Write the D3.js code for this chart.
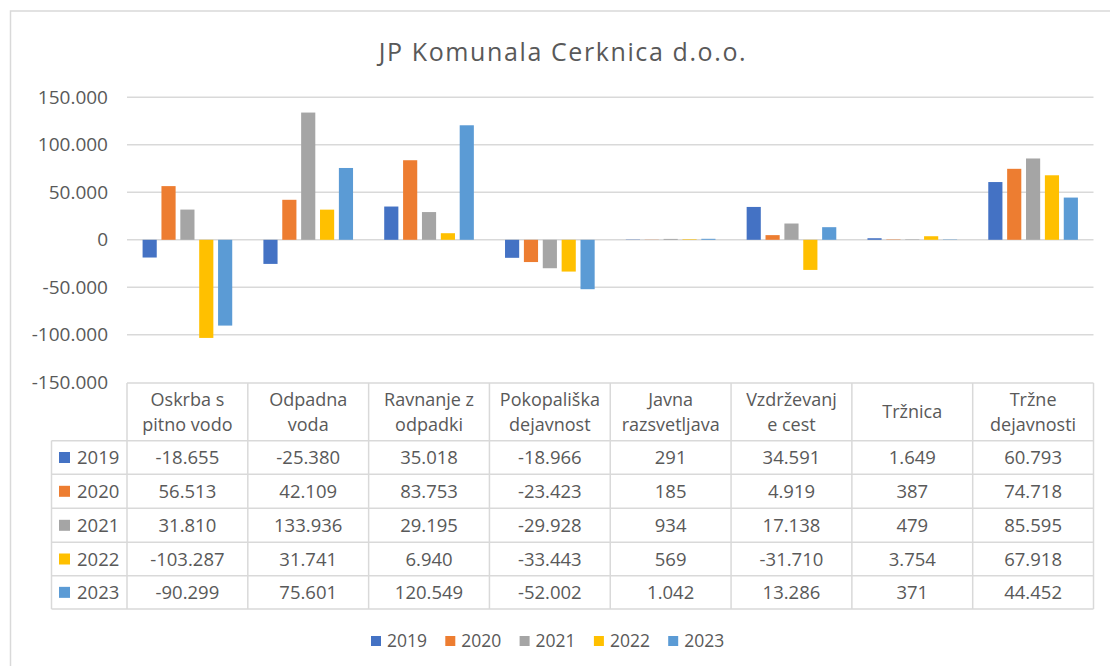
<!DOCTYPE html>
<html>
<head>
<meta charset="utf-8">
<script src="https://cdn.jsdelivr.net/npm/d3@7"></script>
<style>
  body { margin: 0; background: #fff; }
  text { font-family: "Open Sans", Lato, sans-serif; fill: #595959; }
</style>
</head>
<body>
<svg id="chart" width="1110" height="666"></svg>
<script>
var categories = [
  ["Oskrba s", "pitno vodo"],
  ["Odpadna", "voda"],
  ["Ravnanje z", "odpadki"],
  ["Pokopališka", "dejavnost"],
  ["Javna", "razsvetljava"],
  ["Vzdrževanj", "e cest"],
  ["Tržnica"],
  ["Tržne", "dejavnosti"]
];
var years = ["2019", "2020", "2021", "2022", "2023"];
var v2019 = [-18655, -25380, 35018, -18966, 291, 34591, 1649, 60793];
var v2020 = [56513, 42109, 83753, -23423, 185, 4919, 387, 74718];
var v2021 = [31810, 133936, 29195, -29928, 934, 17138, 479, 85595];
var v2022 = [-103287, 31741, 6940, -33443, 569, -31710, 3754, 67918];
var v2023 = [-90299, 75601, 120549, -52002, 1042, 13286, 371, 44452];
var yTicks = [-150000, -100000, -50000, 0, 50000, 100000, 150000];
var colors = ["#4472C4", "#ED7D31", "#A5A5A5", "#FFC000", "#5B9BD5"];

var series = [v2019, v2020, v2021, v2022, v2023];

var svg = d3.select("#chart"),
    plot = {left: 127, right: 1093.5, top: 97.3, bottom: 382.3},
    tableRows = [383, 440.7, 474.3, 508.3, 542.3, 575.7, 609],
    legendColLeft = 51.5,
    gridColor = "#D9D9D9";

var loc = d3.formatLocale({decimal: ",", thousands: ".", grouping: [3], currency: ["", " €"], minus: "-"});
var fmt = loc.format(",d");

// outer chart border (runs past the window on the right and bottom)
svg.append("rect")
    .attr("x", 10.5).attr("y", 11)
    .attr("width", 1200).attr("height", 700)
    .attr("fill", "none")
    .attr("stroke", gridColor)
    .attr("stroke-width", 1.5);

svg.append("text")
    .attr("x", 563).attr("y", 61)
    .attr("text-anchor", "middle")
    .style("font-size", "25px")
    .style("letter-spacing", "1.6px")
    .text("JP Komunala Cerknica d.o.o.");

var x0 = d3.scaleBand()
    .domain(d3.range(categories.length))
    .range([plot.left, plot.right]);

// year bars fill ~78% of each category
var inner = d3.scaleBand()
    .domain(years)
    .range([x0.bandwidth() * 0.1095, x0.bandwidth() * 0.8905])
    .paddingInner(0.25)
    .paddingOuter(0.125);

var y = d3.scaleLinear()
    .domain([-150000, 150000])
    .range([plot.bottom, plot.top]);

// gridlines
svg.append("g")
  .selectAll("line")
  .data(yTicks.filter(function(d) { return d !== -150000; }))
  .enter().append("line")
    .attr("x1", plot.left).attr("x2", plot.right)
    .attr("y1", function(d) { return y(d); })
    .attr("y2", function(d) { return y(d); })
    .attr("stroke", gridColor)
    .attr("stroke-width", 1.5);

// y axis labels
var yAxis = svg.append("g")
    .attr("transform", "translate(" + (plot.left + 5) + ",0)")
    .call(d3.axisLeft(y).tickValues(yTicks).tickFormat(fmt).tickSize(0).tickPadding(24));
yAxis.select(".domain").remove();
yAxis.selectAll("text")
    .attr("fill", "#595959")
    .style("font-family", "'Open Sans', sans-serif")
    .style("font-size", "19px");

// bars
var groups = svg.append("g")
  .selectAll("g")
  .data(categories)
  .enter().append("g")
    .attr("transform", function(d, i) { return "translate(" + x0(i) + ",0)"; });

groups.selectAll("rect")
  .data(function(d, i) { return years.map(function(yr, k) { return {year: yr, k: k, value: series[k][i]}; }); })
  .enter().append("rect")
    .attr("x", function(d) { return inner(d.year); })
    .attr("width", inner.bandwidth())
    .attr("y", function(d) { return y(Math.max(0, d.value)); })
    .attr("height", function(d) { return Math.abs(y(d.value) - y(0)); })
    .attr("fill", function(d) { return colors[d.k]; });

// data table
var table = svg.append("g");
var tLines = table.append("g")
    .attr("stroke", gridColor)
    .attr("stroke-width", 1.5);

tLines.append("line")
    .attr("x1", plot.left).attr("x2", plot.right)
    .attr("y1", tableRows[0]).attr("y2", tableRows[0]);
tableRows.slice(1).forEach(function(ry) {
  tLines.append("line")
      .attr("x1", legendColLeft).attr("x2", plot.right)
      .attr("y1", ry).attr("y2", ry);
});
d3.range(categories.length + 1).forEach(function(i) {
  var xx = i < categories.length ? x0(i) : plot.right;
  tLines.append("line")
      .attr("x1", xx).attr("x2", xx)
      .attr("y1", tableRows[0]).attr("y2", tableRows[tableRows.length - 1]);
});
tLines.append("line")
    .attr("x1", legendColLeft).attr("x2", legendColLeft)
    .attr("y1", tableRows[1]).attr("y2", tableRows[tableRows.length - 1]);

// header
var headerMid = (tableRows[0] + tableRows[1]) / 2;
categories.forEach(function(lines, i) {
  var cx = x0(i) + x0.bandwidth() / 2;
  var t = table.append("text")
      .attr("text-anchor", "middle")
      .style("font-size", "18px");
  lines.forEach(function(l, j) {
    t.append("tspan")
        .attr("x", cx)
        .attr("y", headerMid + (j - (lines.length - 1) / 2) * 25)
        .attr("dy", "0.35em")
        .text(l);
  });
});

// value rows
years.forEach(function(yr, k) {
  var cy = (tableRows[k + 1] + tableRows[k + 2]) / 2;
  table.append("rect")
      .attr("x", 59).attr("y", cy - 5.5)
      .attr("width", 11).attr("height", 11)
      .attr("fill", colors[k]);
  table.append("text")
      .attr("x", 77).attr("y", cy)
      .attr("dy", "0.36em")
      .style("font-size", "18.5px")
      .text(yr);
  series[k].forEach(function(v, i) {
    table.append("text")
        .attr("x", x0(i) + x0.bandwidth() / 2)
        .attr("y", cy)
        .attr("dy", "0.36em")
        .attr("text-anchor", "middle")
        .style("font-size", "18.5px")
        .text(fmt(v));
  });
});

// legend
var legend = svg.append("g")
    .attr("transform", "translate(371,641)");
years.forEach(function(yr, k) {
  legend.append("rect")
      .attr("x", k * 74.3).attr("y", -5)
      .attr("width", 10).attr("height", 10)
      .attr("fill", colors[k]);
  legend.append("text")
      .attr("x", k * 74.3 + 16).attr("y", 0)
      .attr("dy", "0.36em")
      .style("font-size", "17.5px")
      .text(yr);
});
</script>
</body>
</html>
